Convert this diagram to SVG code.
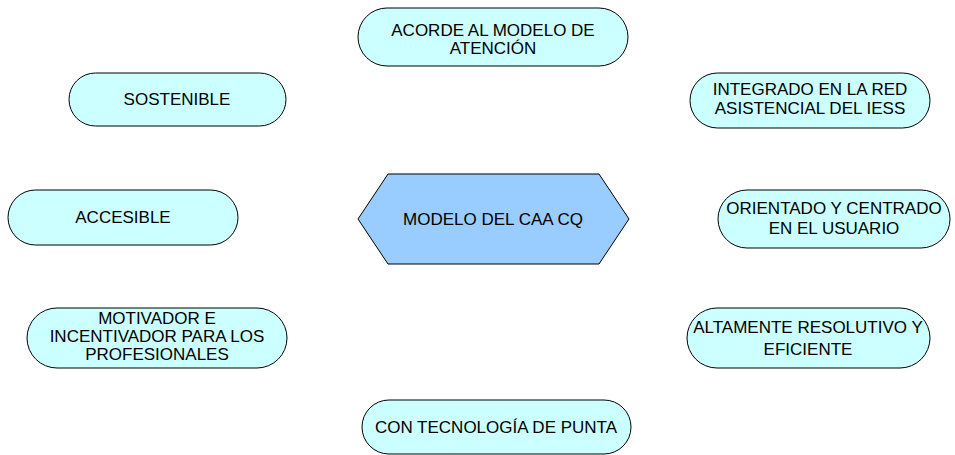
<svg xmlns="http://www.w3.org/2000/svg" width="955" height="455" viewBox="0 0 955 455">
<style>
.p{fill:#CCFFFF;stroke:#000;stroke-width:1}
.h{fill:#99CCFF;stroke:#000;stroke-width:1}
text{font-family:"Liberation Sans",Arial,sans-serif;font-size:17px;fill:#000;text-anchor:middle}
</style>
<rect width="955" height="455" fill="#fff"/>
<g id="center"><polygon class="h" points="358,219 388,174 599,174 629,219 599,264 388,264"/><text x="493" y="225">MODELO DEL CAA CQ</text></g>
<g id="n-acorde"><rect class="p" x="358" y="8" width="270" height="58" rx="29"/><text x="493" y="36">ACORDE AL MODELO DE</text><text x="493" y="54">ATENCIÓN</text></g>
<g id="n-sostenible"><rect class="p" x="69" y="73" width="217" height="53" rx="26.5"/><text x="177" y="105">SOSTENIBLE</text></g>
<g id="n-integrado"><rect class="p" x="690" y="73" width="240" height="55" rx="27.5"/><text x="810" y="95">INTEGRADO EN LA RED</text><text x="810" y="114">ASISTENCIAL DEL IESS</text></g>
<g id="n-accesible"><rect class="p" x="8" y="190" width="230" height="55" rx="27.5"/><text x="123" y="223">ACCESIBLE</text></g>
<g id="n-orientado"><rect class="p" x="718" y="190" width="232" height="58" rx="29"/><text x="834" y="214">ORIENTADO Y CENTRADO</text><text x="834" y="234">EN EL USUARIO</text></g>
<g id="n-motivador"><rect class="p" x="27" y="308" width="260" height="60" rx="30"/><text x="157" y="324">MOTIVADOR E</text><text x="157" y="342">INCENTIVADOR PARA LOS</text><text x="157" y="360">PROFESIONALES</text></g>
<g id="n-altamente"><rect class="p" x="687" y="308" width="243" height="60" rx="30"/><text x="808" y="333">ALTAMENTE RESOLUTIVO Y</text><text x="808" y="355">EFICIENTE</text></g>
<g id="n-tecnologia"><rect class="p" x="362" y="400" width="269" height="54" rx="27"/><text x="496" y="433">CON TECNOLOGÍA DE PUNTA</text></g>
<g id="connectors"></g>
</svg>
